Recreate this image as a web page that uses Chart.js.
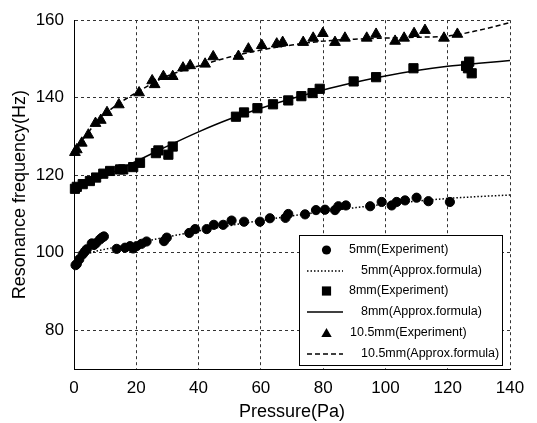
<!DOCTYPE html>
<html><head><meta charset="utf-8">
<script src="https://cdn.jsdelivr.net/npm/chart.js@4/dist/chart.umd.min.js"></script>
<style>html,body{margin:0;padding:0;background:#fff}</style>
</head><body>
<canvas id="c" width="537" height="423"></canvas>
<script>
// ---- data ----
const xTicks = [0, 20, 40, 60, 80, 100, 120, 140];
const yTicks = [80, 100, 120, 140, 160];

const seriesNames = ['5mm(Experiment)', '5mm(Approx.formula)', '8mm(Experiment)', '8mm(Approx.formula)', '10.5mm(Experiment)', '10.5mm(Approx.formula)'];

const p5 = [0.5,0.9,1.7,2.8,3.5,4.1,5.7,6.4,7.1,8.3,9.0,9.6,13.7,16.4,18.0,19.0,20.1,21.7,23.3,28.9,29.8,37.0,38.9,42.6,44.9,47.9,50.6,54.6,59.7,62.9,67.9,68.8,74.2,77.7,80.6,83.8,84.9,87.3,95.1,98.8,102.0,103.6,106.3,110.0,113.8,120.7];
const f5 = [96.8,97.1,98.3,99.6,100.3,100.9,102.4,102.0,102.5,103.4,103.9,104.2,101.0,101.3,101.7,101.1,101.7,102.3,102.9,103.0,103.9,105.1,106.1,106.1,107.2,107.2,108.3,108.0,108.0,108.9,109.0,110.0,109.9,111.0,111.1,111.0,112.0,112.2,112.0,113.1,112.2,113.1,113.5,114.2,113.3,113.1];

const p8 = [0.3,0.9,2.8,5.1,7.1,9.4,11.6,14.8,15.8,19.0,21.2,26.3,27.1,30.3,31.7,52.0,54.6,58.9,63.9,68.8,73.0,76.6,78.9,89.8,97.0,109.0,125.9,126.5,126.9,127.7];
const f8 = [116.5,117.0,117.7,118.5,119.4,120.4,121.1,121.5,121.5,122.1,123.2,125.7,126.4,125.3,127.4,135.1,136.2,137.3,138.3,139.3,140.4,141.2,142.3,144.2,145.3,147.6,148.2,147.6,149.3,146.3];

const p10 = [0.3,0.9,2.5,4.6,6.9,8.6,10.6,14.4,20.9,25.1,25.9,28.7,31.7,35.0,37.3,42.1,44.7,52.8,56.0,60.3,65.1,67.0,73.6,76.8,79.9,83.8,87.0,94.0,97.0,103.1,106.0,109.2,112.7,118.8,123.1];
const f10 = [125.9,126.6,128.3,130.4,133.4,134.2,136.2,138.2,141.3,144.4,143.4,145.5,145.5,147.7,148.3,148.7,150.6,150.7,152.6,153.5,153.9,154.3,154.3,155.4,156.6,154.3,155.4,155.4,156.4,154.6,155.4,156.6,157.4,155.4,156.4];

const fitP = [0,5,10,15,20,30,40,50,60,70,80,90,100,110,120,130,140];
const fit5 = [98.0,99.9,100.9,101.7,102.5,104.1,105.6,107.0,108.3,109.5,110.6,111.6,112.5,113.3,114.0,114.5,114.9];
const fit8 = [116.3,118.0,119.8,121.7,123.6,127.5,131.2,134.5,137.3,139.8,142.0,143.9,145.6,147.0,148.1,148.9,149.6];
const fit10 = [126.0,131.5,135.8,138.8,141.3,145.6,148.2,150.5,152.3,153.6,154.6,155.1,155.4,155.6,155.9,157.4,159.4];

const xTitle = 'Pressure(Pa)';
const yTitle = 'Resonance frequency(Hz)';

// ---- build chart ----
const pts = (xs, ys) => xs.map((x, i) => ({x: x, y: ys[i]}));
const FONT = '"Liberation Sans", Arial, Helvetica, sans-serif';

function expSet(label, xs, ys, style, r) {
  return {label, data: pts(xs, ys), showLine: false, pointStyle: style, pointRadius: r,
    pointHoverRadius: r, backgroundColor: '#000', borderColor: '#000', pointBorderWidth: 1,
    clip: false, order: 0};
}
function fitSet(label, ys, dash, w) {
  return {label, data: pts(fitP, ys), showLine: true, pointRadius: 0, borderColor: '#000',
    borderWidth: w, borderDash: dash, cubicInterpolationMode: 'monotone', fill: false, order: 1};
}

const datasets = [
  expSet(seriesNames[0], p5, f5, 'circle', 4.6),
  fitSet(seriesNames[1], fit5, [1.5, 2], 1.5),
  expSet(seriesNames[2], p8, f8, 'rect', 6.5),
  fitSet(seriesNames[3], fit8, [], 1.5),
  expSet(seriesNames[4], p10, f10, 'triangle', 6.2),
  fitSet(seriesNames[5], fit10, [5, 3], 1.5)
];

function drawMarker(ctx, style, x, y, r) {
  ctx.beginPath();
  if (style === 'circle') { ctx.arc(x, y, r, 0, Math.PI * 2); }
  else if (style === 'rect') { const s = r * Math.SQRT1_2; ctx.rect(x - s, y - s, 2 * s, 2 * s); }
  else { const a = r; ctx.moveTo(x, y - a); ctx.lineTo(x + a * 0.866, y + a / 2); ctx.lineTo(x - a * 0.866, y + a / 2); ctx.closePath(); }
  ctx.fillStyle = '#000'; ctx.fill();
}

const legendPlugin = {
  id: 'boxLegend',
  afterDraw(chart) {
    const ctx = chart.ctx;
    const bx = 299.5, by = 235.5, bw = 203, bh = 130;
    ctx.save();
    ctx.fillStyle = '#fff';
    ctx.fillRect(bx, by, bw, bh);
    ctx.strokeStyle = '#000'; ctx.lineWidth = 1; ctx.setLineDash([]);
    ctx.strokeRect(bx, by, bw, bh);
    const rowY = [250, 271, 291, 312, 333, 354];
    const textX = [349, 361, 349, 361, 350, 361];
    ctx.font = '12.5px ' + FONT;
    ctx.textBaseline = 'middle';
    ctx.textAlign = 'left';
    chart.data.datasets.forEach((ds, i) => {
      const y = rowY[i];
      if (ds.showLine) {
        ctx.save();
        ctx.strokeStyle = '#000'; ctx.lineWidth = ds.borderWidth;
        ctx.setLineDash(ds.borderDash || []);
        ctx.beginPath(); ctx.moveTo(307, y); ctx.lineTo(343, y); ctx.stroke();
        ctx.restore();
      } else {
        drawMarker(ctx, ds.pointStyle, 326.5, y + (ds.pointStyle === 'triangle' ? 1 : 0), ds.pointStyle === 'rect' ? 6.5 : (ds.pointStyle === 'triangle' ? 6 : 4.6));
      }
      ctx.fillStyle = '#000';
      ctx.fillText(ds.label, textX[i], y);
    });
    ctx.restore();
  }
};

new Chart(document.getElementById('c'), {
  type: 'scatter',
  data: {datasets},
  plugins: [legendPlugin],
  options: {
    responsive: false,
    animation: false,
    devicePixelRatio: 1,
    layout: {padding: {top: 12.5, right: 27, left: 0, bottom: 0}},
    plugins: {legend: {display: false}, tooltip: {enabled: false}},
    scales: {
      x: {
        type: 'linear', min: 0, max: 140,
        afterBuildTicks: (axis) => { axis.ticks = xTicks.map(v => ({value: v})); },
        afterFit: (axis) => { axis.height = 54; },
        ticks: {color: '#000', font: {family: FONT, size: 17}, padding: 9, maxRotation: 0, autoSkip: false},
        grid: {color: '#333', lineWidth: 1, drawTicks: false},
        border: {display: true, color: '#000', width: 1, dash: [3, 3]},
        title: {display: true, text: xTitle, color: '#000', font: {family: FONT, size: 18}, padding: {top: 0, bottom: 0}}
      },
      y: {
        type: 'linear', min: 70, max: 160,
        afterBuildTicks: (axis) => { axis.ticks = yTicks.map(v => ({value: v})); },
        afterFit: (axis) => { axis.width = 74; },
        ticks: {color: '#000', font: {family: FONT, size: 17}, padding: 10, autoSkip: false},
        grid: {color: '#333', lineWidth: 1, drawTicks: false},
        border: {display: true, color: '#000', width: 1, dash: [3, 3]},
        title: {display: true, text: yTitle, color: '#000', font: {family: FONT, size: 18}, padding: {top: 9, bottom: 0}}
      }
    }
  }
});
</script>
</body></html>
